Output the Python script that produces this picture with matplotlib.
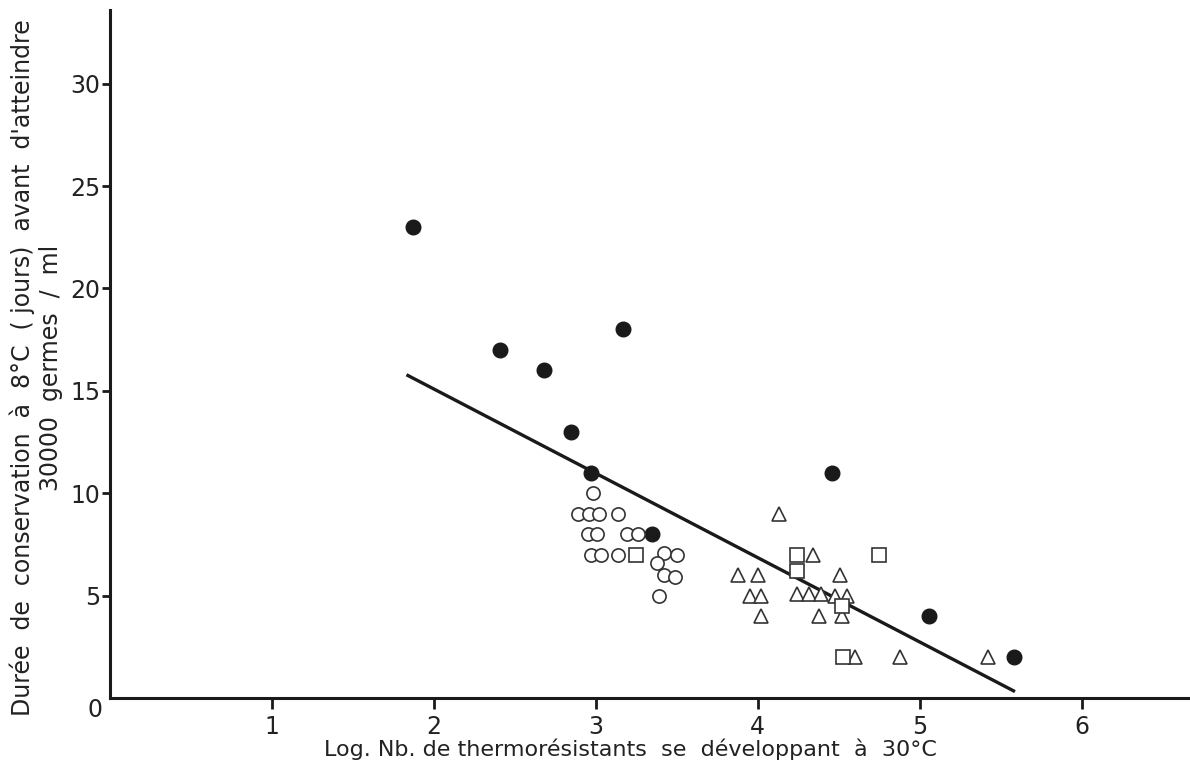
import matplotlib
matplotlib.use("Agg")
import matplotlib.pyplot as plt

# Filled circles
filled_x = [1.87, 2.41, 2.68, 2.85, 3.17, 2.97, 3.35, 4.46, 5.06, 5.58]
filled_y = [23, 17, 16, 13, 18, 11, 8, 11, 4, 2]

# Open circles
circ_x = [2.98, 2.89, 2.96, 3.02, 3.14, 2.95, 3.01, 3.19, 3.26, 2.97, 3.03, 3.14,
          3.42, 3.50, 3.38, 3.42, 3.49, 3.39]
circ_y = [10, 9, 9, 9, 9, 8, 8, 8, 8, 7, 7, 7, 7.1, 7.0, 6.6, 6.0, 5.9, 5.0]

# Open triangles
tri_x = [4.13, 4.34, 3.88, 4.00, 4.51, 3.95, 4.02, 4.24, 4.32, 4.39, 4.48, 4.55,
         4.02, 4.38, 4.52, 4.60, 4.88, 5.42]
tri_y = [9, 7, 6, 6, 6, 5, 5, 5.1, 5.1, 5.1, 5, 5, 4, 4, 4, 2, 2, 2]

# Open squares
sq_x = [3.25, 4.24, 4.24, 4.75, 4.52, 4.53]
sq_y = [7, 7, 6.2, 7, 4.5, 2]

# Regression line end points
line_x = [1.84, 5.58]
line_y = [15.75, 0.35]

yticks = [5, 10, 15, 20, 25, 30]
xticks = [1, 2, 3, 4, 5, 6]

plt.rcParams['font.family'] = ['DejaVu Sans']

TXT = '#222222'

fig = plt.figure(figsize=(11.9, 7.71), dpi=100)
ax = fig.add_axes([110/1190, 73/771, 1080/1190, 688/771])

ax.plot(line_x, line_y, color='#1a1a1a', lw=2.4, zorder=2)
ax.plot(filled_x, filled_y, 'o', ms=10.5, color='#1a1a1a', mec='#1a1a1a', zorder=3)
ax.plot(circ_x, circ_y, 'o', ms=9.5, mfc='white', mec='#333333', mew=1.2, zorder=3)
ax.plot(tri_x, tri_y, '^', ms=9.5, mfc='white', mec='#333333', mew=1.2, zorder=3)
ax.plot(sq_x, sq_y, 's', ms=9.5, mfc='white', mec='#333333', mew=1.2, zorder=3)

ax.set_xlim(0, 6.67)
ax.set_ylim(0, 33.6)
for s in ['top', 'right']:
    ax.spines[s].set_visible(False)
for s in ['left', 'bottom']:
    ax.spines[s].set_linewidth(2.2)
    ax.spines[s].set_color('#1a1a1a')

ax.set_xticks(xticks)
ax.set_xticklabels([str(v) for v in xticks])
ax.set_yticks(yticks)
ax.set_yticklabels([str(v) for v in yticks])
ax.tick_params(axis='x', direction='out', length=8, width=2, labelsize=17, pad=4,
               color='#1a1a1a', labelcolor=TXT)
ax.tick_params(axis='y', direction='out', length=6, width=2, labelsize=17, pad=1,
               color='#1a1a1a', labelcolor=TXT)

ax.text(-0.09, -0.6, '0', transform=ax.transData, fontsize=17, color=TXT,
        ha='center', va='center', clip_on=False)

fig.text(630/1190, 1 - 749/771, "Log. Nb. de thermorésistants  se  développant  à  30°C",
         ha='center', va='center', fontsize=16, color=TXT)
fig.text(36/1190, 1 - 368/771,
         "Durée  de  conservation  à  8°C  ( jours)  avant  d'atteindre\n30000  germes  /  ml",
         ha='center', va='center', rotation=90, fontsize=17, color=TXT,
         multialignment='center', linespacing=1.2)

fig.savefig('out.png', dpi=100)
